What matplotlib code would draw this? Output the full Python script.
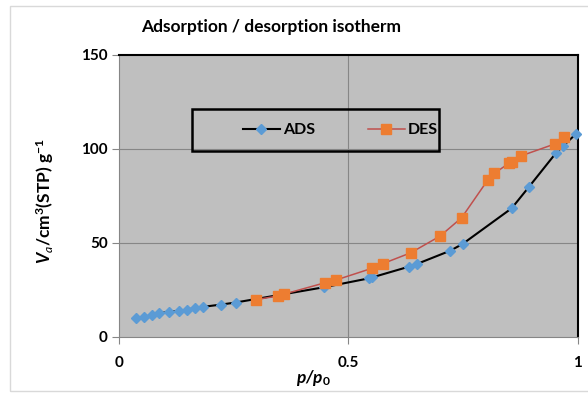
import matplotlib
matplotlib.use("Agg")
import matplotlib.pyplot as plt
from matplotlib.lines import Line2D
from matplotlib.patches import Rectangle

plt.rcParams["font.family"] = ["Lato", "DejaVu Sans"]
plt.rcParams["mathtext.fontset"] = "custom"
plt.rcParams["mathtext.rm"] = "Lato"
plt.rcParams["mathtext.it"] = "Lato:italic"
plt.rcParams["mathtext.bf"] = "Lato:bold"
plt.rcParams["mathtext.bfit"] = "Lato:bold:italic"

# Isotherm data: relative pressure p/p0 and adsorbed volume (cm3(STP)/g)
ads_p = [0.037, 0.055, 0.073, 0.088, 0.108, 0.131, 0.148, 0.165, 0.183,
         0.222, 0.254, 0.448, 0.545, 0.552, 0.632, 0.649, 0.722, 0.749,
         0.856, 0.893, 0.953, 0.969, 0.996]
ads_v = [9.6, 10.4, 11.5, 12.4, 13.1, 13.6, 14.3, 15.1, 15.8,
         17.0, 18.1, 26.3, 31.0, 31.5, 37.2, 38.6, 45.7, 49.3,
         68.3, 79.5, 97.9, 101.7, 107.9]

des_p = [0.298, 0.346, 0.360, 0.450, 0.473, 0.551, 0.575, 0.636, 0.700,
         0.747, 0.804, 0.818, 0.850, 0.857, 0.876, 0.950, 0.971]
des_v = [19.6, 21.6, 22.6, 28.7, 30.1, 36.3, 38.8, 44.6, 53.5,
         63.3, 83.4, 86.9, 92.3, 93.1, 96.2, 102.6, 106.4]

x_ticks = [0, 0.5, 1]
x_tick_labels = ["0", "0.5", "1"]
y_ticks = [0, 50, 100, 150]
y_tick_labels = ["0", "50", "100", "150"]

W, H = 588, 393
fig = plt.figure(figsize=(W / 100, H / 100), dpi=100)
fig.patch.set_facecolor("white")

# outer chart frame
fig.patches.append(Rectangle((10 / W, 1 - 391 / H), 600 / W, 385 / H,
                             transform=fig.transFigure, fill=False,
                             edgecolor="#d9d9d9", linewidth=1.0))

ax = fig.add_axes([119 / W, 1 - 336.5 / H, 458.7 / W, 281.5 / H])
ax.set_facecolor("#bfbfbf")
ax.set_xlim(0, 1)
ax.set_ylim(0, 150)

grid_c = "#868686"
for yv in [50, 100]:
    ax.axhline(yv, color=grid_c, linewidth=0.8, zorder=1)
ax.axvline(0.5, color=grid_c, linewidth=0.8, zorder=1)

ads_style = dict(color="black", linewidth=1.5, marker="D", markersize=5.6,
                 markerfacecolor="#5b9bd5", markeredgecolor="#5b9bd5")
des_style = dict(color="#c0504d", linewidth=1.1, marker="s", markersize=7.8,
                 markerfacecolor="#ed7d31", markeredgecolor="#ed7d31")

ax.plot(ads_p, ads_v, zorder=3, clip_on=False, **ads_style)
ax.plot(des_p, des_v, zorder=4, clip_on=False, **des_style)

for side in ["top", "right"]:
    ax.spines[side].set_color("black")
    ax.spines[side].set_linewidth(1.5)
for side in ["left", "bottom"]:
    ax.spines[side].set_color(grid_c)
    ax.spines[side].set_linewidth(0.8)

ax.set_xticks(x_ticks)
ax.set_xticklabels(x_tick_labels, fontsize=11, fontweight="bold")
ax.set_yticks(y_ticks)
ax.set_yticklabels(y_tick_labels, fontsize=11, fontweight="bold")
ax.tick_params(axis="both", direction="out", length=5, width=0.8,
               color=grid_c, pad=3)
ax.tick_params(axis="x", pad=9)

ax.set_ylabel(r"$\mathbfit{V}_{\mathit{a}}\mathbf{/cm^{3}(STP)\ g^{-1}}$",
              fontsize=12.5)
ax.yaxis.set_label_coords(-0.137, 0.48)
ax.set_xlabel(r"$\mathbfit{p/p}_{\mathbf{0}}$", fontsize=12.5)
ax.xaxis.set_label_coords(0.423, -0.112)

fig.text(271 / W, 1 - 27 / H, "Adsorption / desorption isotherm",
         ha="center", va="center", fontsize=12.5, fontweight="bold")

# legend frame and entries
ax.add_patch(Rectangle(((192 - 119) / 458.7, (336.5 - 151) / 281.5),
                       (439 - 192) / 458.7, (151 - 109) / 281.5,
                       transform=ax.transAxes, fill=False,
                       edgecolor="black", linewidth=1.8, zorder=5))
handles = [Line2D([], [], **ads_style), Line2D([], [], **des_style)]
leg = ax.legend(handles, ["ADS", "DES"], ncol=2, frameon=False,
                loc="center left",
                bbox_to_anchor=((243 - 119) / 458.7, (336.5 - 130) / 281.5),
                borderaxespad=0, borderpad=0, handlelength=2.3,
                handletextpad=0.2, columnspacing=3.3,
                prop={"weight": "bold", "size": 11.5})
leg.set_zorder(6)

fig.savefig("out.png", dpi=100)
